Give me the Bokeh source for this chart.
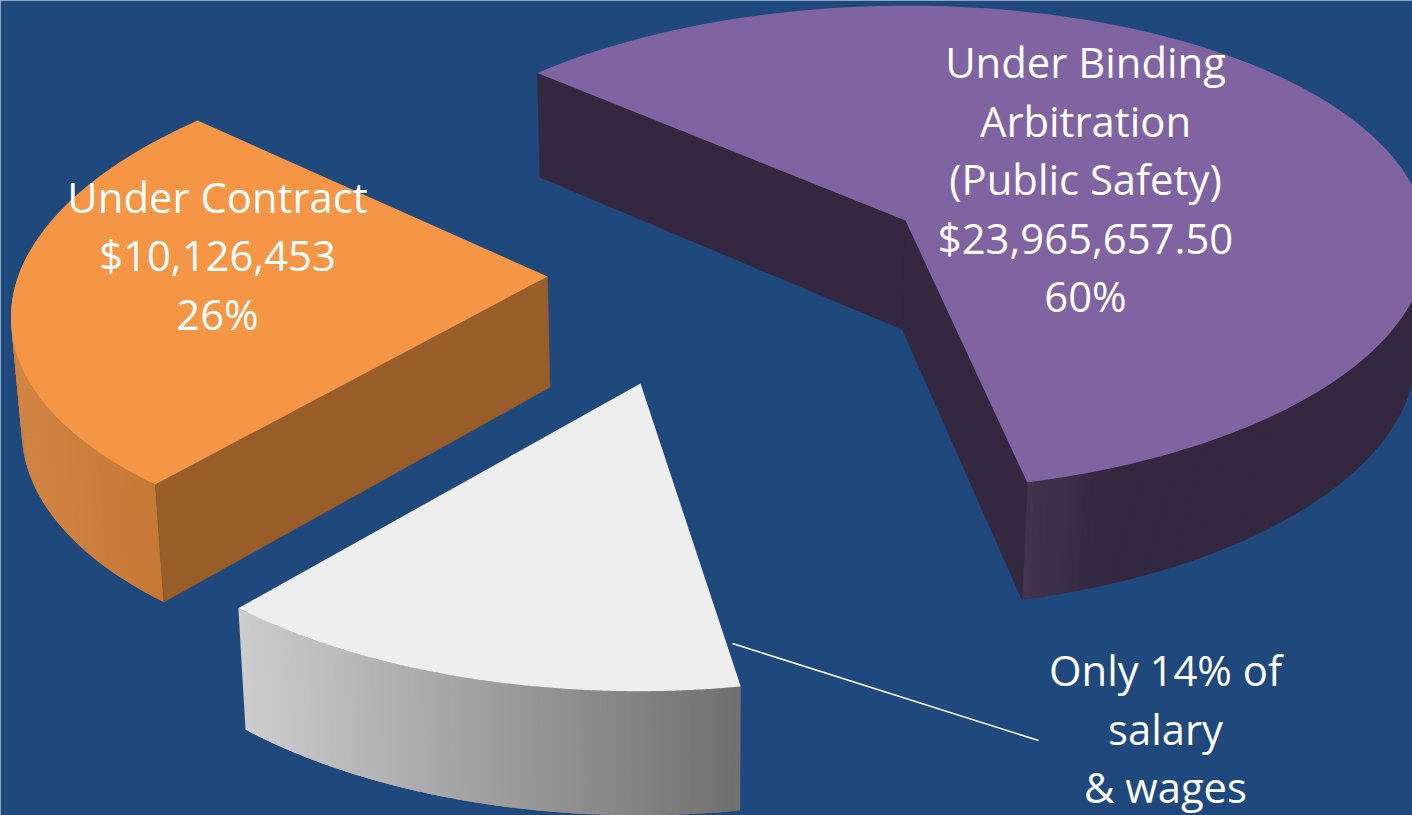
import numpy as np
from bokeh.plotting import figure
from bokeh.models import Range1d, ColumnDataSource
from bokeh.core.properties import value
from bokeh.embed import file_html
from bokeh.resources import INLINE

# ---- data
slice_names = ["Under Binding Arbitration (Public Safety)", "Only 14% of salary & wages", "Under Contract"]
slice_shares = [60, 14, 26]     # clockwise from the start angle
purple_label = ["Under Binding", "Arbitration", "(Public Safety)", "$23,965,657.50", "60%"]
orange_label = ["Under Contract", "$10,126,453", "26%"]
white_label = ["Only 14% of", "salary", "& wages"]

# ---- styling and projection of the tilted, exploded pie
BG = "#1F497D"
W, H = 1412, 815
START = 138.0
FONT = "Open Sans"
FS = 41.8
# per slice: apex, A, S, B, T, k, m of a perspective map from the unit circle to the page
PROJ = [dict(c=(905, 220), A=528, S=1.4, B=239.5, T=4.4, k=.115, m=.018),
        dict(c=(640, 383), A=555, S=27, B=272, T=-14, k=.115, m=0),
        dict(c=(547, 276), A=550.5, S=42, B=253.7, T=0, k=.088, m=-.04)]
TOP = ["#8064A2", "#EEEEEE", "#F49645"]
FACE = ["#33283F", None, "#985D29"]
ARC_VIS = [(-90, 8), (-135, -70), (-186, -125)]
GRAD = [((1027, "#43344F"), (1115, "#33283F")),
        ((240, "#CDCDCD"), (740, "#707070")),
        ((20, "#D28442"), (165, "#C47834"))]


def project(pr, deg):
    t = np.radians(np.asarray(deg, float))
    X, Y = np.cos(t), np.sin(t)
    w = 1 + pr["k"] * Y + pr["m"] * X
    return (pr["c"][0] + (pr["A"] * X + pr["S"] * Y) / w,
            pr["c"][1] - (pr["B"] * Y + pr["T"] * X) / w)


def drop(x, y):
    x, y = np.asarray(x, float), np.asarray(y, float)
    return x + (700 - x) * .0155, y + 102 + .032 * y


def rgb(h):
    return np.array([int(h[i:i + 2], 16) for i in (1, 3, 5)], float)


def shade(stops, x):
    (x0, c0), (x1, c1) = stops
    f = np.clip((x - x0) / (x1 - x0), 0, 1)
    c = rgb(c0) * (1 - f) + rgb(c1) * f
    return "#%02x%02x%02x" % tuple(int(round(v)) for v in c)


p = figure(width=W, height=H, x_range=Range1d(0, W), y_range=Range1d(H, 0),
           output_backend="svg", toolbar_location=None, min_border=0,
           background_fill_color=BG, border_fill_color=BG, outline_line_color=None)
p.axis.visible = False
p.grid.visible = False

a = START
for i, share in enumerate(slice_shares):
    sweep = share / 100 * 360
    a0, a1 = a, a - sweep
    a = a1
    pr = PROJ[i]
    cx, cy = pr["c"]
    ang = np.linspace(a0, a1, 181)
    ax, ay = project(pr, ang)
    # curved outer wall, shaded across the page; each strip runs under the next one
    lo, hi = ARC_VIS[i]
    vis = np.linspace(max(lo, a1), min(hi, a0), 120)
    vx, vy = project(pr, vis)
    bx, by = drop(vx, vy)
    xs, ys, cols = [], [], []
    for j in range(len(vis) - 2):
        xs.append([vx[j], vx[j + 1], vx[j + 2], bx[j + 2], bx[j + 1], bx[j]])
        ys.append([vy[j], vy[j + 1], vy[j + 2], by[j + 2], by[j + 1], by[j]])
        cols.append(shade(GRAD[i], vx[j + 1]))
    src = ColumnDataSource(dict(xs=xs, ys=ys, c=cols))
    p.patches("xs", "ys", source=src, fill_color="c", line_color=None)
    # flat inner walls
    if FACE[i]:
        for end in ([a0, a1] if i == 0 else [a0]):
            ex, ey = project(pr, end)
            qx = np.array([cx, ex])
            qy = np.array([cy, ey])
            qbx, qby = drop(qx, qy)
            p.patch([qx[0], qx[1], qbx[1], qbx[0]], [qy[0], qy[1], qby[1], qby[0]],
                    fill_color=FACE[i], line_color=FACE[i], line_width=.5)
    # top surface
    p.patch(list(ax) + [cx], list(ay) + [cy], fill_color=TOP[i], line_color=None)

# leader line
p.line([732, 1038], [643, 740], line_color="white", line_width=1.5)


def block(lines, x, y0, step):
    ys_ = [y0 + step * n for n in range(len(lines))]
    p.text([x] * len(lines), ys_, text=lines, text_color="white", text_align="center",
           text_baseline="middle", text_font=value(FONT),
           text_font_size=f"{FS}px")


block(purple_label, 1085, 61, 58.6)
block(orange_label, 217, 195.5, 58.6)
block(white_label, 1165, 669, 58.6)

open("out.html", "w").write(file_html(p, INLINE))
